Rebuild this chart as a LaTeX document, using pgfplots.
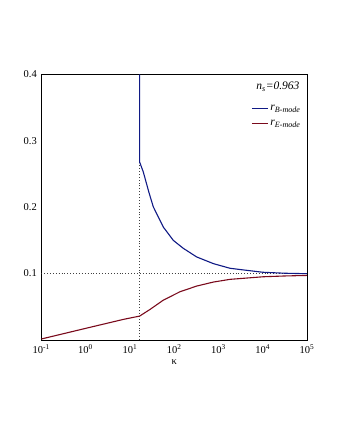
\documentclass[border=0pt]{standalone}
\usepackage{pgfplots}
\pgfplotsset{compat=1.18}
\usepackage{fontspec}
\setmainfont{Liberation Serif}
\definecolor{bmode}{HTML}{101A85}
\definecolor{emode}{HTML}{7A0A1C}

\begin{document}
\begin{tikzpicture}[x=1pt,y=1pt]
\path[use as bounding box] (0,0) rectangle (340,440);
\begin{axis}[
    at={(41.3pt,100pt)}, anchor=south west,
    scale only axis,
    width=265.7pt, height=265.7pt,
    xmode=log,
    xmin=0.1, xmax=1e5,
    ymin=0, ymax=0.4,
    xtick={0.1,1,10,100,1000,10000,100000},
    xticklabels={10\textsuperscript{-1},10\textsuperscript{0},10\textsuperscript{1},10\textsuperscript{2},10\textsuperscript{3},10\textsuperscript{4},10\textsuperscript{5}},
    ytick={0.1,0.2,0.3,0.4},
    yticklabels={0.1,0.2,0.3,0.4},
    tick style={draw=none},
    xminorticks=false,
    tick label style={font=\fontsize{10.5}{12}\selectfont},
    xticklabel style={yshift=-1pt},
    yticklabel style={xshift=-1pt},
    xlabel={κ},
    xlabel style={font=\fontsize{10.5}{12}\selectfont, yshift=1pt},
    axis line style={line width=0.7pt},
    legend style={draw=none, fill=none, at={(0.995,0.9)}, anchor=north east,
        font=\fontsize{11.5}{13}\selectfont\itshape, row sep=4pt},
    legend cell align=left,
    legend image code/.code={\draw[#1] (0pt,0pt)--(16pt,0pt);},
]
% guide lines
\addplot[forget plot, black!75, dotted, line width=0.9pt] coordinates {(16.6,0) (16.6,0.4)};
\addplot[forget plot, black!75, dotted, line width=0.9pt] coordinates {(0.1,0.1) (100000,0.1)};
% B-mode
\addplot[bmode, line width=1.1pt] coordinates {
    (16.6,0.4) (16.6,0.268) (20.1,0.253) (27,0.222) (33.8,0.2005) (56.9,0.170)
    (95.7,0.150) (161,0.138) (323,0.125) (766,0.115) (1820,0.108)
    (3160,0.106) (10000,0.102) (31600,0.1005) (100000,0.0998)
};
\addlegendentry{r\textsubscript{B-mode}}
% E-mode
\addplot[emode, line width=1.1pt] coordinates {
    (0.1,0.0015) (1,0.0175) (7.1,0.0310) (16.6,0.0360) (28.5,0.046) (56.9,0.060)
    (135,0.0726) (323,0.0812) (766,0.0872) (1820,0.0913) (10230,0.0952)
    (31600,0.0964) (100000,0.0972)
};
\addlegendentry{r\textsubscript{E-mode}}
\node[anchor=north east, font=\fontsize{11.5}{13}\selectfont\itshape] at (rel axis cs:0.985,0.985) {n\textsubscript{s}=0.963};
\end{axis}
\end{tikzpicture}
\end{document}
